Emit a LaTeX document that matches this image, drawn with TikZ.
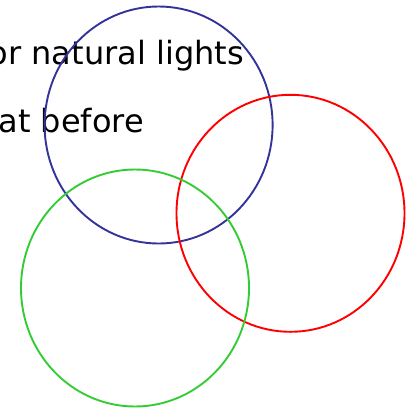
\documentclass[tikz,border=0pt]{standalone}
\usepackage{fontspec}
\setmainfont{DejaVu Sans}
\usepackage{tikz}
\usetikzlibrary{positioning}
\definecolor{ringblue}{HTML}{333399}
\definecolor{ringred}{HTML}{FF0000}
\definecolor{ringgreen}{HTML}{33CC33}
\tikzset{
  slidetext/.style={anchor=base east,inner sep=0pt,font=\fontsize{32}{38}\selectfont},
  ring/.style={line width=1.9pt}
}

\begin{document}
\begin{tikzpicture}[x=1pt,y=-1pt]
\useasboundingbox (0,0) rectangle (415,408);
\node[slidetext] (lineone) at (244,64.7) {or natural lights};
\node[slidetext] (linetwo) at (144,132.3) {at before};
\draw[ring,ringblue] (158.6,125) ellipse [x radius=114pt,y radius=118.5pt];
\draw[ring,ringred] (290.5,213.3) ellipse [x radius=114pt,y radius=118.5pt];
\draw[ring,ringgreen] (135,288) ellipse [x radius=114pt,y radius=118.5pt];
\end{tikzpicture}
\end{document}
